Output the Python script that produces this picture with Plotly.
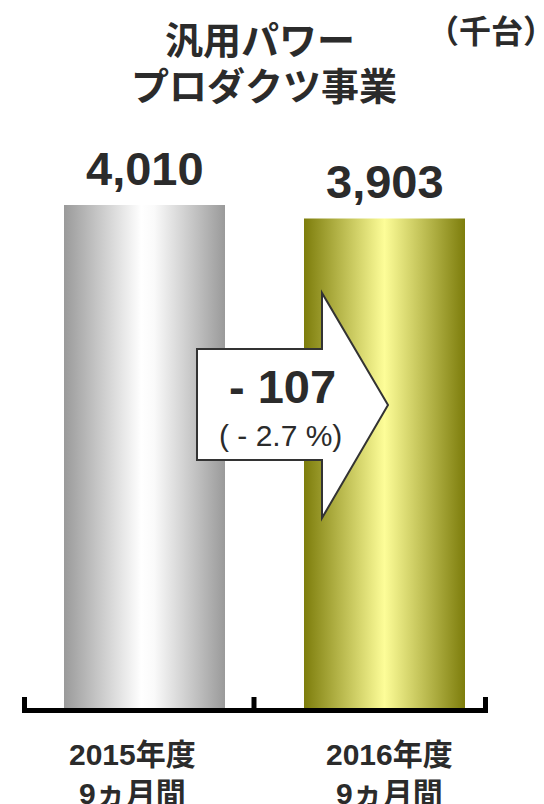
import plotly.graph_objects as go

# ---- data ----
categories = ["2015年度<br>9ヵ月間", "2016年度<br>9ヵ月間"]
values = [4010, 3903]
value_labels = ["4,010", "3,903"]
diff_label = "- 107"
diff_pct_label = "( - 2.7 %)"
title_lines = ["汎用パワー", "プロダクツ事業"]
unit_label = "（千台）"

# page body has an 8px margin; figure is sized so it ends at the window edge
OFF = 8
W, H = 544 - OFF, 804 - OFF

def px(xp):  # window pixel -> paper x
    return (xp - OFF) / W

def py(yp):  # window pixel -> paper y
    return 1 - (yp - OFF) / H

# axis mapping (window pixels)
X0_PX, X_STEP_PX = 144.5, 240.0
Y0_PX, Y_SCALE = 708.0, (708.0 - 205.0) / 4010.0
x_range = [-(X0_PX - OFF) / X_STEP_PX, (544 - X0_PX) / X_STEP_PX]
y_range = [-(804 - Y0_PX) / Y_SCALE, (Y0_PX - OFF) / Y_SCALE]

bar_half = 80.5 / X_STEP_PX
scales = [
    [[0, "#9a9a9a"], [0.48, "#ffffff"], [0.56, "#fafafa"], [1, "#9a9a9a"]],
    [[0, "#7d7d0c"], [0.5, "#fdfd98"], [1, "#7d7d0c"]],
]

fig = go.Figure()
for i, v in enumerate(values):
    fig.add_trace(go.Scatter(
        x=[i - bar_half, i + bar_half, i + bar_half, i - bar_half, i - bar_half],
        y=[0, 0, v, v, 0],
        mode="lines", fill="toself",
        line=dict(width=0, color="rgba(0,0,0,0)"),
        fillgradient=dict(type="horizontal", colorscale=scales[i]),
        hoverinfo="skip", showlegend=False,
    ))

num_font = "Liberation Sans, Arial, Noto Sans CJK JP"
cjk_font = "Noto Sans CJK JP, sans-serif"
txt = "#2b2b2b"

annotations = []
# value labels
for i, (v, lab) in enumerate(zip(values, value_labels)):
    annotations.append(dict(x=i, y=v, xref="x", yref="y", text=lab, showarrow=False,
                            xanchor="center", yanchor="bottom", yshift=8,
                            font=dict(family=num_font, size=47, color=txt, weight="bold")))
# category labels
cat_shift = [-12, 5]
for i, c in enumerate(categories):
    annotations.append(dict(x=i, y=py(736), xref="x", yref="paper", text=c, showarrow=False,
                            xanchor="center", yanchor="top", xshift=cat_shift[i],
                            font=dict(family=num_font, size=30, color=txt, weight="bold")))
# title
annotations.append(dict(x=px(260), y=py(37), xref="paper", yref="paper", text=title_lines[0],
                        showarrow=False, xanchor="center", yanchor="middle",
                        font=dict(family=cjk_font, size=38, color=txt, weight="bold")))
annotations.append(dict(x=px(264), y=py(84), xref="paper", yref="paper", text=title_lines[1],
                        showarrow=False, xanchor="center", yanchor="middle",
                        font=dict(family=cjk_font, size=38, color=txt, weight="bold")))
annotations.append(dict(x=px(491), y=py(29), xref="paper", yref="paper", text=unit_label,
                        showarrow=False, xanchor="center", yanchor="middle",
                        font=dict(family=cjk_font, size=32, color=txt, weight="bold")))
# difference labels in arrow
annotations.append(dict(x=px(282), y=py(386), xref="paper", yref="paper", text=diff_label,
                        showarrow=False, xanchor="center", yanchor="middle",
                        font=dict(family=num_font, size=47, color=txt, weight="bold")))
annotations.append(dict(x=px(280), y=py(435), xref="paper", yref="paper", text=diff_pct_label,
                        showarrow=False, xanchor="center", yanchor="middle",
                        font=dict(family=num_font, size=30, color=txt)))

# arrow shape (decoration)
arrow_pts = [(197, 349), (322, 349), (322, 293), (388, 405), (322, 518), (322, 460), (197, 460)]
path = "M " + " L ".join(f"{px(a):.5f},{py(b):.5f}" for a, b in arrow_pts) + " Z"

shapes = [
    dict(type="path", path=path, xref="paper", yref="paper",
         fillcolor="#ffffff", line=dict(color="#333333", width=2), layer="above"),
    # axis bracket
    dict(type="line", xref="paper", yref="paper", x0=px(22), x1=px(488), y0=py(710.5), y1=py(710.5),
         line=dict(color="#000000", width=5)),
]
for tx in (24.5, 254, 485.5):
    shapes.append(dict(type="line", xref="paper", yref="paper", x0=px(tx), x1=px(tx),
                       y0=py(697), y1=py(712), line=dict(color="#000000", width=5)))

fig.update_layout(
    width=W, height=H,
    margin=dict(l=0, r=0, t=0, b=0),
    paper_bgcolor="#ffffff", plot_bgcolor="#ffffff",
    xaxis=dict(range=x_range, visible=False, fixedrange=True),
    yaxis=dict(range=y_range, visible=False, fixedrange=True),
    annotations=annotations,
    shapes=shapes,
    showlegend=False,
)

fig.write_html("out.html")
